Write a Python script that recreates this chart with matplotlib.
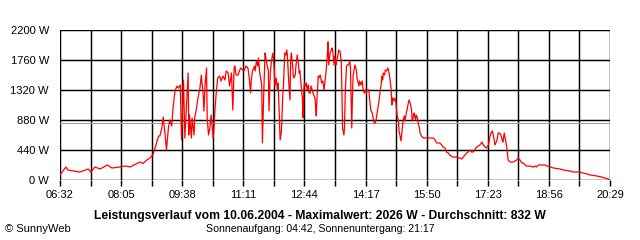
import matplotlib
matplotlib.use("Agg")
import matplotlib.pyplot as plt
import numpy as np

# minutes since midnight
times = [392, 401, 404, 422, 435, 439, 445, 453, 464, 471, 483, 491, 499, 506, 514, 518, 524, 529, 534,
         539, 542, 544, 547, 549, 552, 554, 557, 559, 562, 564, 567, 570, 572, 575, 577, 580, 582, 585,
         587, 588, 589, 592, 593, 596, 597, 599, 602, 605, 607, 610, 611, 613, 615, 616, 618, 620, 622,
         625, 626, 628, 630, 632, 635, 637, 640, 643, 645, 648, 650, 653, 655, 657, 658, 660, 663,
         665, 667, 670, 672, 675, 678, 680, 682, 683, 685, 688, 689, 691, 693, 694, 696, 698, 699, 700,
         702, 704, 705, 707, 709, 710, 712, 714, 716, 718, 719, 721, 723, 724, 726, 727, 729, 731, 732,
         734, 736, 737, 738, 740, 742, 743, 744, 746, 747, 748, 750, 751, 753, 755, 756, 757, 758, 761,
         762, 763, 764, 766, 767, 768, 770, 771, 773, 774, 776, 777, 780, 781, 782, 783, 785, 786, 788,
         789, 790, 792, 794, 795, 797, 799, 800, 801, 803, 805, 806, 807, 809, 810, 812, 813, 815, 816,
         818, 820, 821, 822, 824, 825, 826, 828, 829, 831, 833, 834, 836, 837, 838, 840, 841, 843, 844,
         847, 848, 850, 852, 853, 855, 857, 858, 860, 862, 863, 865, 867, 868, 870, 872, 873, 875, 877,
         879, 881, 882, 883, 884, 886, 887, 889, 891, 892, 894, 896, 897, 898, 900, 901, 903, 904, 905,
         907, 908, 910, 911, 913, 914, 916, 917, 919, 920, 922, 923, 925, 927, 928, 930, 931, 933, 934,
         936, 937, 939, 940, 942, 945, 955, 960, 963, 965, 970, 973, 975, 978, 980, 983, 985, 990, 996,
         998, 1001, 1003, 1006, 1008, 1011, 1013, 1016, 1018, 1021, 1023, 1026, 1029, 1031, 1034, 1036,
         1039, 1041, 1044, 1046, 1048, 1050, 1052, 1054, 1057, 1059, 1061, 1063, 1065, 1066, 1068, 1070,
         1072, 1074, 1077, 1082, 1087, 1089, 1092, 1095, 1097, 1100, 1102, 1107, 1112, 1115, 1117, 1120,
         1125, 1130, 1133, 1138, 1143, 1153, 1158, 1168, 1173, 1181, 1188, 1194, 1199, 1209, 1216, 1221,
         1226, 1229]

power = [73, 191, 147, 117, 161, 117, 191, 161, 220, 176, 191, 205, 191, 227, 264, 242, 293, 323, 381,
         543, 645, 645, 763, 924, 660, 440, 763, 880, 792, 1056, 1305, 1379, 1349, 1393, 587, 1467, 616, 1203,
         1569, 660, 953, 616, 909, 660, 909, 1012, 1203, 1349, 1540, 1247, 1012, 1423, 1643, 909, 660, 763, 953,
         616, 719, 1056, 1305, 1496, 1525, 1452, 1525, 1467, 1599, 1569, 1379, 1569, 1027, 1643, 1672, 1540, 1540,
         1599, 1643, 1613, 1599, 1672, 1643, 1496, 1276, 1467, 1599, 1672, 1599, 1745, 1672, 1789, 1569, 1452, 1393, 543,
         1247, 1863, 1819, 1687, 1613, 1012, 1569, 1760, 1863, 1643, 1379, 1496, 1320, 1423, 880, 587, 719, 1232, 1379,
         1863, 1833, 1907, 1833, 1452, 1173, 1745, 1863, 1687, 1525, 1496, 1540, 1672, 1833, 1687, 1569, 1599, 1496, 1173,
         909, 1320, 1423, 1379, 1423, 1320, 1393, 1276, 1276, 1379, 1320, 1276, 1203, 1085, 939, 1173, 1525, 1496, 1540,
         1496, 1423, 1452, 1320, 1423, 1599, 1863, 2026, 1687, 1863, 1907, 1936, 1892, 1687, 1819, 1687, 1745, 1833, 1907,
         1892, 1745, 1320, 763, 660, 763, 1247, 1672, 1687, 1687, 1745, 1643, 763, 1203, 1525, 1643, 1687, 1613, 1496,
         1379, 1452, 1393, 1452, 1349, 1276, 1320, 1276, 1320, 1320, 1203, 1027, 983, 939, 836, 836, 880, 1012, 1129,
         1276, 1423, 1525, 1467, 1569, 1540, 1613, 1599, 1643, 1613, 1496, 1320, 1100, 1203, 1159, 1203, 1159, 1056, 939,
         880, 719, 616, 572, 763, 865, 939, 865, 983, 1027, 1129, 1173, 1129, 1027, 865, 939, 983, 880, 953,
         909, 836, 763, 689, 645, 616, 616, 616, 587, 543, 543, 513, 484, 469, 411, 396, 367, 337, 337,
         323, 323, 308, 337, 367, 396, 411, 440, 411, 411, 440, 484, 499, 513, 557, 513,
         484, 469, 513, 631, 689, 719, 631, 513, 587, 689, 689, 660, 587, 557, 689, 587,
         469, 293, 264, 264, 293, 323, 293, 249, 249, 220, 205, 205, 191, 205, 191, 220,
         220, 220, 205, 191, 176, 161, 147, 132, 117, 117, 103, 88, 73, 59, 44, 29,
         15, 0]

average = 832
y_ticks = [0, 440, 880, 1320, 1760, 2200]
start, end = 392, 1229  # 06:32 .. 20:29
x_labels = ["06:32", "08:05", "09:38", "11:11", "12:44", "14:17", "15:50", "17:23", "18:56", "20:29"]

title = "Leistungsverlauf vom 10.06.2004 - Maximalwert: 2026 W - Durchschnitt: 832 W"
subtitle = "Sonnenaufgang: 04:42, Sonnenuntergang: 21:17"

plt.rcParams['font.family'] = ['Liberation Sans', 'DejaVu Sans']

fig = plt.figure(figsize=(6.4, 2.4), dpi=100)
ax = fig.add_axes([60 / 640, 60 / 240, 550 / 640, 150 / 240])

grid_x = np.linspace(start, end, 19)
for y in y_ticks:
    ax.axhline(y, color="black", lw=1.05, zorder=1)
for x in grid_x:
    ax.axvline(x, color="black", lw=1.05, zorder=1)
ax.axhline(average, color="#a0a0a0", lw=0.72, antialiased=False, zorder=2)

ax.plot(times, power, color="#ff0000", lw=0.9, zorder=3)

ax.set_xlim(start, end)
ax.set_ylim(0, 2200)
for s in ax.spines.values():
    s.set_visible(False)

ax.set_xticks(grid_x[::2])
ax.set_xticklabels(x_labels)
ax.set_xticks(grid_x, minor=True)
ax.tick_params(axis="x", which="both", length=4, width=1.05, color="black", pad=3, labelsize=8)
ax.set_yticks(y_ticks)
ax.set_yticklabels([f"{v} W" for v in y_ticks])
ax.tick_params(axis="y", length=0, pad=8, labelsize=8)

fig.text(0.5, 0.1, title, ha="center", va="center", fontsize=8.7, fontweight="bold")
fig.text(0.5, 0.047, subtitle, ha="center", va="center", fontsize=7.6)
fig.text(0.008, 0.047, "© SunnyWeb", ha="left", va="center", fontsize=8)

fig.savefig("out.png", dpi=100)
